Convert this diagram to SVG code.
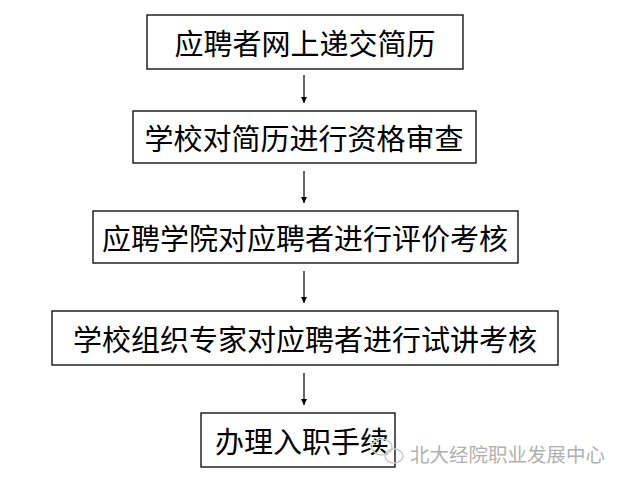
<svg xmlns="http://www.w3.org/2000/svg" width="627" height="486" viewBox="0 0 627 486">
<style>
.box{fill:#fff;stroke:#000;stroke-width:1.3}
.t{font-family:"Noto Sans CJK SC","Noto Sans CJK TC",sans-serif;font-size:29px;fill:#000;text-anchor:middle;dominant-baseline:central}
.c{stroke:#000;stroke-width:1.2;fill:none}
.wm{font-family:"Noto Sans CJK SC",sans-serif;font-size:19.5px;fill:#b0b0b0}
</style>
<defs>
<marker id="ah" markerWidth="8" markerHeight="8" refX="6" refY="3" orient="auto" markerUnits="userSpaceOnUse">
<path d="M0,0 L6,3 L0,6 Z" fill="#000"/>
</marker>
</defs>
<rect width="627" height="486" fill="#fff"/>
<g id="connectors">
<line class="c" x1="304" y1="75" x2="304" y2="103" marker-end="url(#ah)"/>
<line class="c" x1="304" y1="171" x2="304" y2="203" marker-end="url(#ah)"/>
<line class="c" x1="304" y1="271" x2="304" y2="303" marker-end="url(#ah)"/>
<line class="c" x1="304" y1="373" x2="304" y2="405" marker-end="url(#ah)"/>
</g>
<g id="n1"><rect class="box" x="147" y="15" width="316" height="54"/><text class="t" x="305" y="42">应聘者网上递交简历</text></g>
<g id="n2"><rect class="box" x="133" y="111" width="343" height="52"/><text class="t" x="304" y="137">学校对简历进行资格审查</text></g>
<g id="n3"><rect class="box" x="93" y="211" width="425" height="52"/><text class="t" x="305" y="237">应聘学院对应聘者进行评价考核</text></g>
<g id="n4"><rect class="box" x="52" y="311" width="506" height="54"/><text class="t" x="305" y="338">学校组织专家对应聘者进行试讲考核</text></g>
<g id="n5"><rect class="box" x="201" y="413" width="194" height="54"/><text class="t" x="302" y="440">办理入职手续</text></g>
<g id="watermark">
<ellipse cx="382" cy="447" rx="10" ry="8" fill="none" stroke="#cccccc" stroke-width="1.5"/>
<ellipse cx="394" cy="456" rx="9" ry="7" fill="none" stroke="#cccccc" stroke-width="1.5"/>
<text class="wm" x="410" y="462">北大经院职业发展中心</text>
</g>
</svg>
